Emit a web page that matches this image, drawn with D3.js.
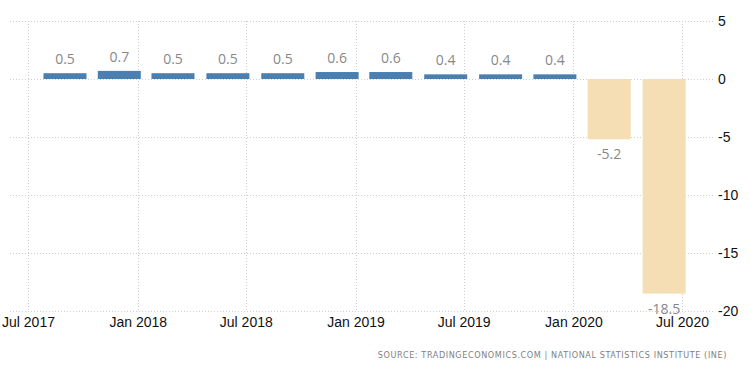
<!DOCTYPE html>
<html>
<head>
<meta charset="utf-8">
<script src="https://cdn.jsdelivr.net/npm/d3@7"></script>
<style>
	body { margin: 0; background: #fff; }
	svg { display: block; font-family: "DejaVu Sans", sans-serif; font-stretch: condensed; }
	.grid line { stroke: #cfcfcf; stroke-dasharray: 1,2; }
	.axis text { fill: #111; font-size: 14px; }
	.val { fill: #888; font-size: 14px; font-family: "Open Sans", sans-serif; font-stretch: normal; }
	.source { fill: #808080; font-size: 9px; letter-spacing: 0.6px; }
</style>
</head>
<body>
<div id="chart"></div>
<script>
// quarterly GDP growth (QoQ, %)
var quarters = ["2017-09-01", "2017-12-01", "2018-03-01", "2018-06-01", "2018-09-01", "2018-12-01",
	"2019-03-01", "2019-06-01", "2019-09-01", "2019-12-01", "2020-03-01", "2020-06-01"];
var values = [0.5, 0.7, 0.5, 0.5, 0.5, 0.6, 0.6, 0.4, 0.4, 0.4, -5.2, -18.5];
var xTicks = ["2017-07-01", "2018-01-01", "2018-07-01", "2019-01-01", "2019-07-01", "2020-01-01", "2020-07-01"];
var yTicks = [5, 0, -5, -10, -15, -20];
var source = "SOURCE: TRADINGECONOMICS.COM | NATIONAL STATISTICS INSTITUTE (INE)";

var W = 750, H = 373;
var parse = d3.timeParse("%Y-%m-%d");

var svg = d3.select("#chart").append("svg")
	.attr("width", W)
	.attr("height", H);

// plot box
var box = { left: 10, right: 714, top: 21, bottom: 311 };

var x = d3.scaleTime()
	.domain([parse(xTicks[0]), parse(xTicks[xTicks.length - 1])])
	.range([28, 682]);

var y = d3.scaleLinear()
	.domain([-20, 5])
	.range([box.bottom, box.top]);

var barW = 43;

// grid layer
var grid = svg.append("g").classed("grid", true);

grid.selectAll("line.h")
	.data(yTicks)
	.enter().append("line")
	.attr("class", "h")
	.attr("x1", box.left)
	.attr("x2", box.right)
	.attr("y1", function(d) { return Math.round(y(d)) + 0.5; })
	.attr("y2", function(d) { return Math.round(y(d)) + 0.5; });

grid.selectAll("line.v")
	.data(xTicks)
	.enter().append("line")
	.attr("class", "v")
	.attr("x1", function(d) { return Math.round(x(parse(d))) + 0.5; })
	.attr("x2", function(d) { return Math.round(x(parse(d))) + 0.5; })
	.attr("y1", box.top)
	.attr("y2", box.bottom);

// bars
var data_layer = svg.append("g").classed("data", true);

data_layer.selectAll("rect")
	.data(values)
	.enter().append("rect")
	.attr("x", function(d, i) { return x(parse(quarters[i])) - barW / 2; })
	.attr("width", barW)
	.attr("y", function(d) { return d >= 0 ? y(d) : y(0); })
	.attr("height", function(d) { return Math.abs(y(d) - y(0)); })
	.attr("fill", function(d) { return d >= 0 ? "#4a7fb0" : "#f5deb3"; });

data_layer.selectAll("text.val")
	.data(values)
	.enter().append("text")
	.attr("class", "val")
	.attr("text-anchor", "middle")
	.attr("x", function(d, i) { return x(parse(quarters[i])); })
	.attr("y", function(d) { return d >= 0 ? y(d) - 9 : y(d) + 20; })
	.text(function(d) { return d.toFixed(1); });

// axes
var xAxis = d3.axisBottom(x)
	.tickValues(xTicks.map(parse))
	.tickFormat(d3.timeFormat("%b %Y"))
	.tickSize(0)
	.tickPadding(6);

svg.append("g")
	.attr("class", "x axis")
	.attr("transform", "translate(0," + box.bottom + ")")
	.call(xAxis)
	.call(function(g) { g.select(".domain").remove(); });

var yAxis = d3.axisRight(y)
	.tickValues(yTicks)
	.tickFormat(function(d) { return String(d); })
	.tickSize(0)
	.tickPadding(4);

svg.append("g")
	.attr("class", "y axis")
	.attr("transform", "translate(" + box.right + ",0)")
	.call(yAxis)
	.call(function(g) { g.select(".domain").remove(); });

svg.selectAll(".axis text").attr("font-family", null).attr("font-size", null);

svg.append("text")
	.attr("class", "source")
	.attr("text-anchor", "end")
	.attr("x", 727)
	.attr("y", 358)
	.text(source);
</script>
</body>
</html>
